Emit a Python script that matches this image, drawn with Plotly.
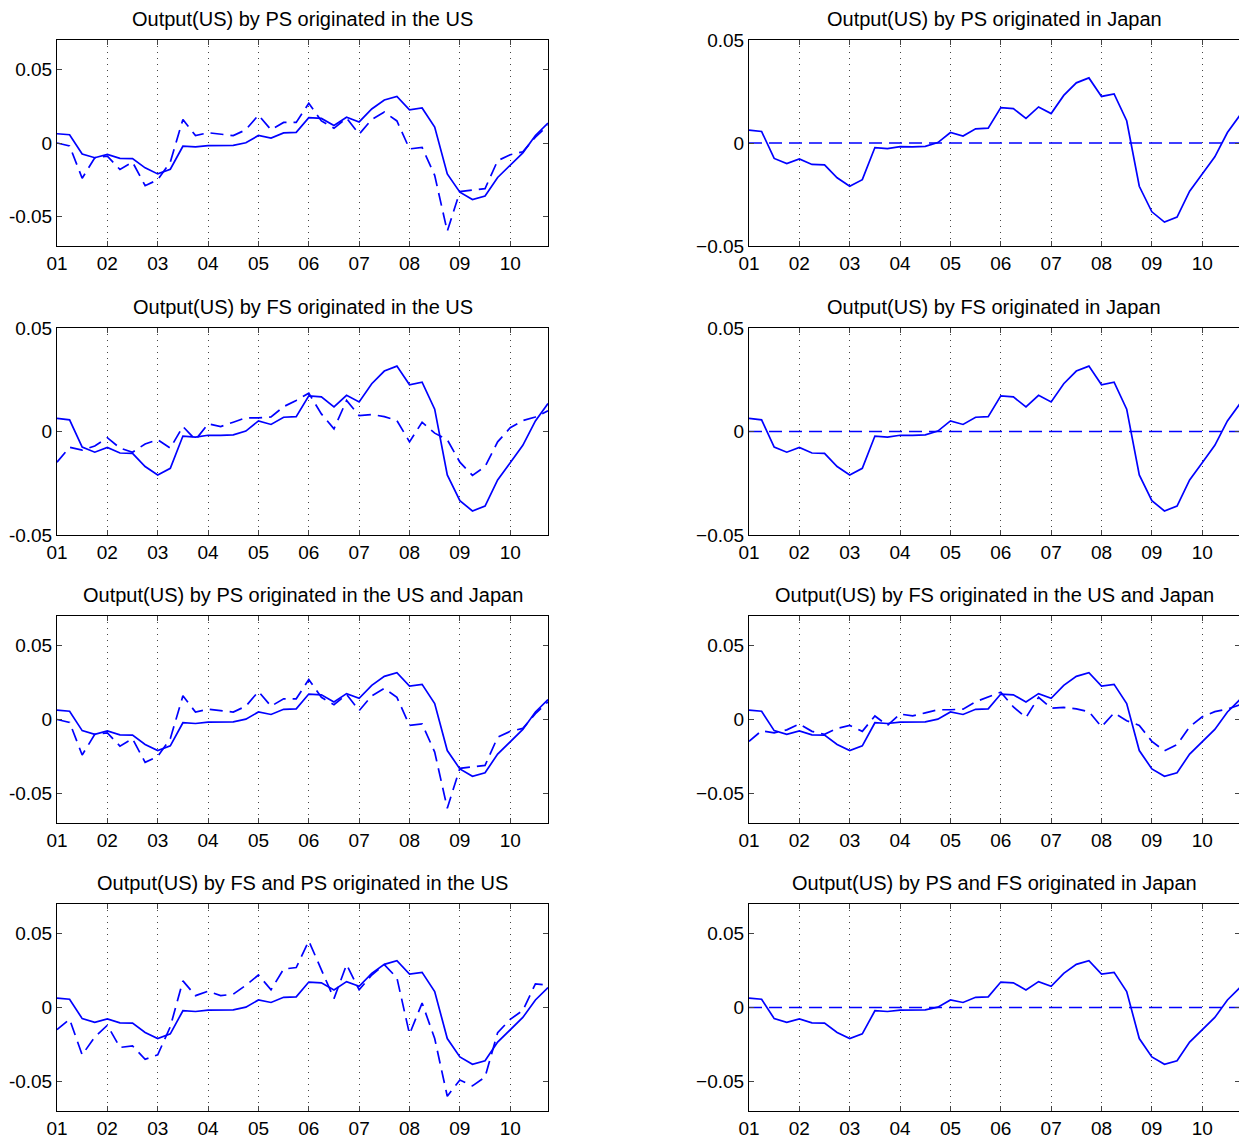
import plotly.graph_objects as go

quarters = [2001 + i * 0.25 for i in range(40)]
year_ticks = list(range(2001, 2011))
year_labels = ["01", "02", "03", "04", "05", "06", "07", "08", "09", "10"]

output_us = [0.0063, 0.0056, -0.0075, -0.010, -0.0077, -0.0104, -0.0106, -0.0169, -0.021, -0.0178,
             -0.0022, -0.0027, -0.0018, -0.0019, -0.0016, 0.0002, 0.0051, 0.0034, 0.0069, 0.0072,
             0.0172, 0.0167, 0.0119, 0.0175, 0.0143, 0.0231, 0.0292, 0.0316, 0.0226, 0.0238,
             0.0108, -0.021, -0.0334, -0.0384, -0.036, -0.0234, -0.0151, -0.0067, 0.0051, 0.0135]

ps_us = [0.0, -0.002, -0.024, -0.010, -0.009, -0.018, -0.013, -0.029, -0.025, -0.013,
         0.016, 0.005, 0.007, 0.006, 0.005, 0.009, 0.019, 0.009, 0.014, 0.014,
         0.027, 0.015, 0.010, 0.017, 0.006, 0.016, 0.021, 0.015, -0.004, -0.003,
         -0.022, -0.060, -0.033, -0.032, -0.031, -0.012, -0.008, -0.006, 0.004, 0.012]

fs_us = [-0.0148, -0.0076, -0.009, -0.007, -0.003, -0.008, -0.010, -0.006, -0.004, -0.008,
         0.0024, -0.004, 0.0037, 0.0024, 0.0045, 0.0066, 0.0066, 0.007, 0.012, 0.015,
         0.0185, 0.0085, 0.0013, 0.015, 0.0077, 0.0082, 0.0072, 0.0053, -0.005, 0.0045,
         -0.0008, -0.004, -0.0148, -0.0212, -0.017, -0.005, 0.0018, 0.0053, 0.007, 0.010]

fs_ps_us = [-0.015, -0.008, -0.032, -0.020, -0.012, -0.027, -0.026, -0.035, -0.032, -0.013,
            0.018, 0.008, 0.011, 0.008, 0.009, 0.015, 0.022, 0.012, 0.026, 0.027,
            0.045, 0.026, 0.006, 0.029, 0.012, 0.022, 0.029, 0.020, -0.018, 0.003,
            -0.021, -0.060, -0.049, -0.053, -0.047, -0.017, -0.008, -0.002, 0.016, 0.015]

zero_line = [0.0] * 40

titles = ["Output(US) by PS originated in the US", "Output(US) by PS originated in Japan",
          "Output(US) by FS originated in the US", "Output(US) by FS originated in Japan",
          "Output(US) by PS originated in the US and Japan", "Output(US) by FS originated in the US and Japan",
          "Output(US) by FS and PS originated in the US", "Output(US) by PS and FS originated in Japan"]
dashed_series = [ps_us, zero_line, fs_us, zero_line, ps_us, fs_us, fs_ps_us, zero_line]
y_ranges = [0.07, 0.05, 0.05, 0.05, 0.07, 0.07, 0.07, 0.07]

W, H = 1247, 1145
OFF = 8  # page body margin
col_px = [(57, 548), (749, 1240)]
row_px = [(40, 246), (328, 535), (616, 823), (904, 1111)]

fig = go.Figure()
font = dict(family="Liberation Sans, Arial, sans-serif", size=19, color="black")
for i in range(8):
    r, c = divmod(i, 2)
    n = i + 1
    xa = "x" if n == 1 else f"x{n}"
    ya = "y" if n == 1 else f"y{n}"
    fig.add_trace(go.Scatter(x=quarters, y=output_us, mode="lines", xaxis=xa, yaxis=ya,
                             line=dict(color="#0000ff", width=1.7), showlegend=False))
    fig.add_trace(go.Scatter(x=quarters, y=dashed_series[i], mode="lines", xaxis=xa, yaxis=ya,
                             line=dict(color="#0000ff", width=1.7, dash="13px,7px"), showlegend=False))
    x0, x1 = col_px[c][0] - OFF, col_px[c][1] - OFF
    y0, y1 = row_px[r][0] - OFF, row_px[r][1] - OFF
    key = "" if n == 1 else str(n)
    fig.layout["xaxis" + key] = dict(domain=[x0 / W, x1 / W], anchor=ya, range=[2001, 2010.75],
                                     tickvals=year_ticks, ticktext=year_labels, ticks="inside", ticklen=5,
                                     showgrid=True, gridcolor="#444", griddash="1px,5px", gridwidth=1,
                                     showline=True, linecolor="black", linewidth=1, mirror="ticks",
                                     zeroline=False, tickfont=font, automargin=False)
    yr = y_ranges[i]
    ymin_label = "-0.05" if c == 0 else "\u22120.05"
    fig.layout["yaxis" + key] = dict(domain=[1 - y1 / H, 1 - y0 / H], anchor=xa, range=[-yr, yr],
                                     tickvals=[-0.05, 0, 0.05], ticktext=[ymin_label, "0", "0.05"],
                                     ticks="inside", ticklen=5, showgrid=False, showline=True,
                                     linecolor="black", linewidth=1, mirror="ticks", zeroline=False,
                                     tickfont=font, automargin=False)
    fig.add_annotation(text=titles[i], x=(x0 + x1) / 2 / W, y=1 - y0 / H, xref="paper", yref="paper",
                       xanchor="center", yanchor="bottom", yshift=8, showarrow=False,
                       font=dict(family="Liberation Sans, Arial, sans-serif", size=20, color="black"))

fig.update_layout(width=W, height=H, margin=dict(l=0, r=0, t=0, b=0, autoexpand=False),
                  plot_bgcolor="white", paper_bgcolor="white")
fig.write_html("out.html")
